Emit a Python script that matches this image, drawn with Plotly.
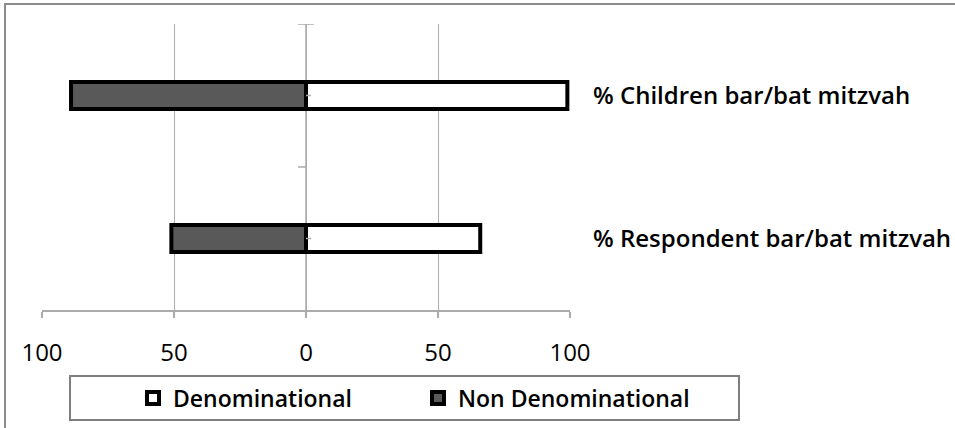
import plotly.graph_objects as go

# Survey categories (bottom to top) and percentages per group
categories = ["% Respondent bar/bat mitzvah", "% Children bar/bat mitzvah"]
denominational = [66, 99]
non_denominational = [51, 89]

x_ticks = [-100, -50, 0, 50, 100]
x_tick_text = ["100", "50", "0", "50", "100"]

GRID = "#ababab"
FONT = "Open Sans"

fig = go.Figure()

fig.add_trace(go.Bar(
    name="Denominational",
    y=categories,
    x=denominational,
    orientation="h",
    width=0.19,
    marker=dict(color="#ffffff", line=dict(color="#000000", width=4)),
    legend="legend",
))
fig.add_trace(go.Bar(
    name="Non Denominational",
    y=categories,
    x=[-v for v in non_denominational],
    orientation="h",
    width=0.19,
    marker=dict(color="#595959", line=dict(color="#000000", width=4)),
    legend="legend2",
))

# plot area: x 42..570 px, y 24..310 px
L, R, T, B = 42, 570, 24, 310
W, H = R - L, B - T


def px(xp):
    return (xp - L) / W


def py(yp):
    return (B - yp) / H


shapes = []
# outer chart frame (left and top edges visible)
shapes.append(dict(type="rect", xref="paper", yref="paper",
                   x0=px(5), x1=px(1200), y0=py(4), y1=py(900),
                   line=dict(color="#8c8c8c", width=2), fillcolor="rgba(0,0,0,0)",
                   layer="below"))
# legend frame
shapes.append(dict(type="rect", xref="paper", yref="paper",
                   x0=px(70), x1=px(739), y0=py(420), y1=py(376),
                   line=dict(color="#7f7f7f", width=2), fillcolor="white",
                   layer="below"))
# vertical value axis at zero with its tick marks
shapes.append(dict(type="line", xref="x", yref="paper", x0=0, x1=0,
                   y0=py(318), y1=1, line=dict(color=GRID, width=1.5), layer="below"))
u = 100 / (W / 2)  # data units per pixel
for yb, left, right in [(1.5, 8, 8), (0.5, 8, 0)]:
    shapes.append(dict(type="line", xref="x", yref="y", x0=-left * u, x1=right * u,
                       y0=yb, y1=yb, line=dict(color=GRID, width=1.5), layer="below"))
for yc in [0, 1]:
    shapes.append(dict(type="line", xref="x", yref="y", x0=0, x1=5 * u,
                       y0=yc, y1=yc, line=dict(color=GRID, width=1.5), layer="above"))

fig.update_layout(
    width=955, height=428,
    margin=dict(l=L, r=955 - R, t=T, b=428 - B, autoexpand=False),
    paper_bgcolor="white", plot_bgcolor="white",
    barmode="relative",
    font=dict(family=FONT, color="#000000", size=24),
    xaxis=dict(
        range=[-100, 100], tickvals=x_ticks, ticktext=x_tick_text,
        showgrid=True, gridcolor=GRID, gridwidth=1,
        showline=True, linecolor=GRID, linewidth=1.5,
        ticks="outside", ticklen=6, tickcolor=GRID, tickwidth=1.5,
        ticklabelstandoff=14, zeroline=False, automargin=False,
        tickfont=dict(family=FONT, size=24, color="#000000"),
        fixedrange=True,
    ),
    yaxis=dict(
        type="category", categoryorder="array", categoryarray=categories,
        range=[-0.5, 1.5], side="right",
        showgrid=False, showline=False, zeroline=False, ticks="",
        ticklabelstandoff=22, automargin=False,
        tickfont=dict(family=FONT, size=24, color="#000000", weight=600),
        fixedrange=True,
    ),
    showlegend=True,
    legend=dict(orientation="h", x=px(133), xanchor="left", y=py(398), yanchor="middle",
                bgcolor="rgba(0,0,0,0)", borderwidth=0, itemwidth=30,
                font=dict(family=FONT, size=23, color="#000000", weight=600)),
    legend2=dict(orientation="h", x=px(418), xanchor="left", y=py(398), yanchor="middle",
                 bgcolor="rgba(0,0,0,0)", borderwidth=0, itemwidth=30,
                 font=dict(family=FONT, size=23, color="#000000", weight=600)),
    shapes=shapes,
)

fig.write_html("out.html")
